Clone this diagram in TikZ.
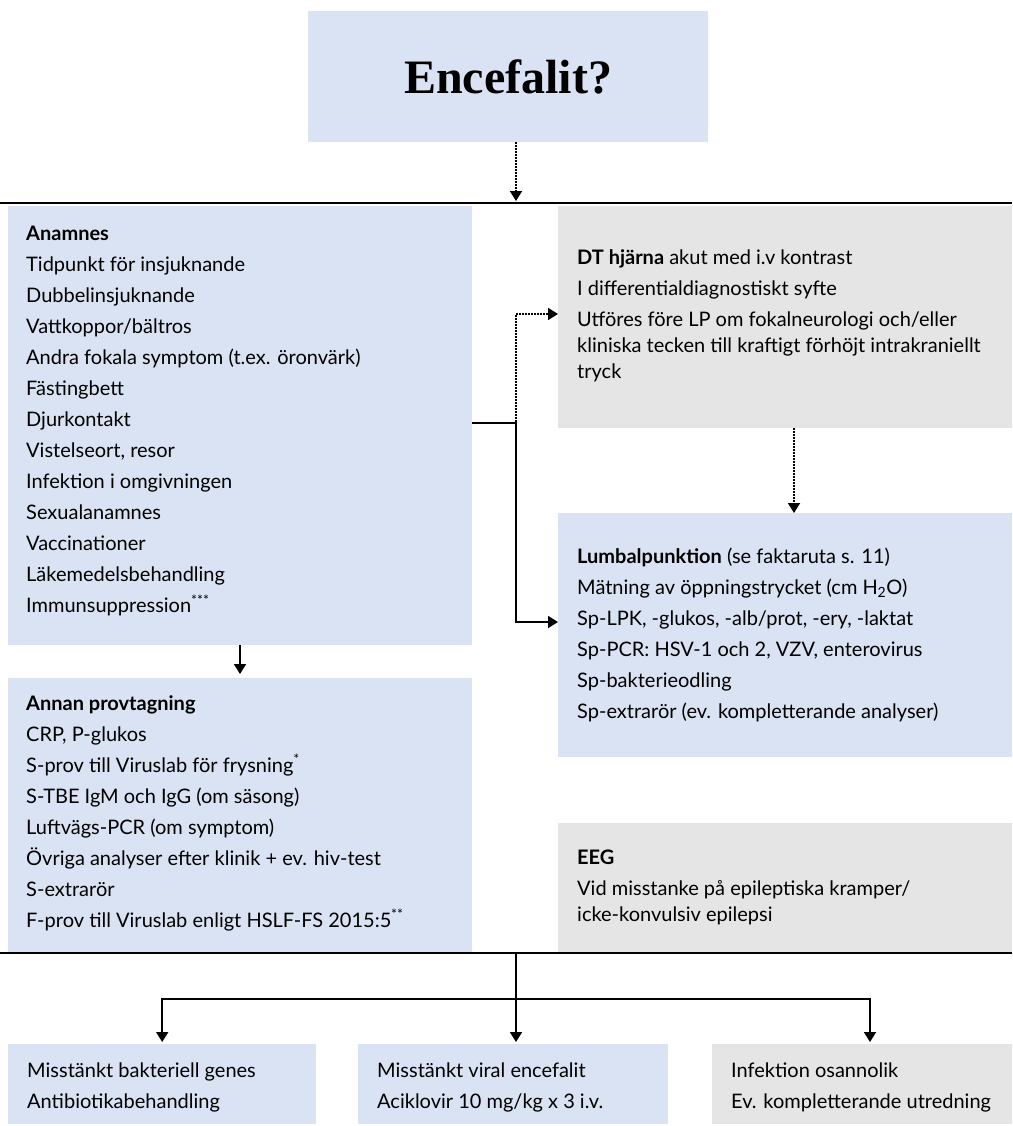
\documentclass[tikz,border=0pt]{standalone}
\usepackage{fontspec}
\setmainfont{Lato}
\newfontfamily\titlefont{Liberation Serif}
\usetikzlibrary{arrows.meta}

\definecolor{boxblue}{RGB}{218,227,243}
\definecolor{boxgray}{RGB}{229,229,229}

\tikzset{
  bluebox/.style={fill=boxblue, anchor=north west, inner sep=0pt},
  graybox/.style={fill=boxgray, anchor=north west, inner sep=0pt},
  boxtext/.style={anchor=north west, inner sep=0pt, align=left, font=\fontsize{20}{31}\selectfont},
  wraptext/.style={boxtext, font=\fontsize{20}{26}\selectfont},
  solidarrow/.style={line width=1.8pt, -{Triangle[width=12pt,length=10pt]}},
  dotarrow/.style={solidarrow, dash pattern=on 1.5pt off 1.5pt},
  ruleline/.style={line width=2.6pt}
}

\begin{document}
\begin{tikzpicture}[x=1pt, y=-1pt]
  \useasboundingbox (0,0) rectangle (1012,1126);

  % title
  \node[bluebox, minimum width=400pt, minimum height=131pt,
        font=\titlefont\bfseries\fontsize{48}{50}\selectfont] (title) at (308,11) {Encefalit?};

  % upper and lower rules
  \draw[ruleline] (0,203) -- (1012,203);
  \draw[ruleline] (0,953) -- (1012,953);

  % left column
  \node[bluebox, minimum width=464pt, minimum height=439pt] (anamnes) at (8,206) {};
  \node[boxtext] (anamnestext) at (26,226) {\textbf{Anamnes}\\Tidpunkt för insjuknande\\Dubbelinsjuknande\\Vattkoppor/bältros\\Andra fokala symptom (t.ex. öronvärk)\\Fästingbett\\Djurkontakt\\Vistelseort, resor\\Infektion i omgivningen\\Sexualanamnes\\Vaccinationer\\Läkemedelsbehandling\\Immunsuppression\textsuperscript{***}};

  \node[bluebox, minimum width=464pt, minimum height=274pt] (annan) at (8,678) {};
  \node[boxtext] (annantext) at (26,695) {\textbf{Annan provtagning}\\CRP, P-glukos\\S-prov till Viruslab för frysning\textsuperscript{*}\\S-TBE IgM och IgG (om säsong)\\Luftvägs-PCR (om symptom)\\Övriga analyser efter klinik + ev. hiv-test\\S-extrarör\\F-prov till Viruslab enligt HSLF-FS 2015:5\textsuperscript{**}};

  % right column
  \node[graybox, minimum width=454pt, minimum height=222pt] (dt) at (558,206) {};
  \node[wraptext] (dttext) at (577,249) {\textbf{DT hjärna} akut med i.v kontrast\\[5pt]I differentialdiagnostiskt syfte\\[5pt]Utföres före LP om fokalneurologi och/eller\\kliniska tecken till kraftigt förhöjt intrakraniellt\\tryck};

  \node[bluebox, minimum width=454pt, minimum height=244pt] (lumbal) at (558,513) {};
  \node[boxtext] (lumbaltext) at (577,548) {\textbf{Lumbalpunktion} (se faktaruta s. 11)\\Mätning av öppningstrycket (cm H\textsubscript{2}O)\\Sp-LPK, -glukos, -alb/prot, -ery, -laktat\\Sp-PCR: HSV-1 och 2, VZV, enterovirus\\Sp-bakterieodling\\Sp-extrarör (ev. kompletterande analyser)};

  \node[graybox, minimum width=454pt, minimum height=129pt] (eeg) at (558,823) {};
  \node[wraptext] (eegtext) at (577,850) {\textbf{EEG}\\[5pt]Vid misstanke på epileptiska kramper/\\icke-konvulsiv epilepsi};

  % outcomes
  \node[bluebox, minimum width=308pt, minimum height=80pt] (bact) at (8,1044) {};
  \node[boxtext] (bacttext) at (27,1063) {Misstänkt bakteriell genes\\Antibiotikabehandling};
  \node[bluebox, minimum width=310pt, minimum height=80pt] (viral) at (358,1044) {};
  \node[boxtext] (viraltext) at (377,1063) {Misstänkt viral encefalit\\Aciklovir 10 mg/kg x 3 i.v.};
  \node[graybox, minimum width=300pt, minimum height=80pt] (rest) at (712,1044) {};
  \node[boxtext] (resttext) at (731,1063) {Infektion osannolik\\Ev. kompletterande utredning};

  % connectors
  \coordinate (topin) at (516,201);
  \draw[dotarrow] (title.south -| topin) -- (topin);

  \coordinate (split) at (516,423);
  \coordinate (dtin) at (0,314);
  \coordinate (lpin) at (0,622);
  \draw[dotarrow] (split -| anamnes.east) -- (split) |- (dt.west |- dtin);
  \draw[solidarrow] (split -| anamnes.east) -- (split) |- (lumbal.west |- lpin);

  \coordinate (dtlp) at (794,0);
  \draw[dotarrow] (dt.south -| dtlp) -- (lumbal.north -| dtlp);

  \coordinate (leftx) at (240,0);
  \draw[solidarrow] (anamnes.south -| leftx) -- ([yshift=4pt]annan.north -| leftx);

  \coordinate (botline) at (516,953);
  \coordinate (branch) at (516,999);
  \coordinate (rightx) at (870,0);
  \draw[solidarrow] (botline) -- ([yshift=2pt]viral.north -| botline);
  \draw[solidarrow] (branch) -| ([yshift=2pt]bact.north);
  \draw[solidarrow] (branch) -| ([yshift=2pt]rest.north -| rightx);
\end{tikzpicture}
\end{document}
